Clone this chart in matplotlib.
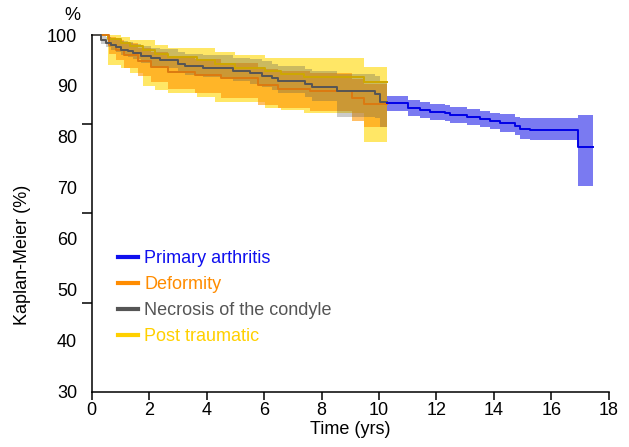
import matplotlib
matplotlib.use("Agg")
import matplotlib.pyplot as plt
import numpy as np

plt.rcParams['font.family'] = ['Liberation Sans', 'DejaVu Sans']

# Primary arthritis (visible part after the other groups end)
pa_t = [10.28, 11.0, 11.43, 11.78, 12.3, 12.48, 13.07, 13.5, 13.87, 14.2, 14.74, 14.9, 15.26, 16.92, 17.44]
pa_v = [86.7, 85.7, 85.3, 84.9, 84.7, 84.3, 83.9, 83.5, 83.1, 82.7, 82.2, 81.6, 81.4, 78.1, 78.1]
pa_hi = [88.0, 87.2, 86.8, 86.4, 86.2, 85.8, 85.4, 85.0, 84.7, 84.4, 84.0, 83.8, 83.7, 84.3, 84.3]
pa_lo = [85.1, 84.2, 83.8, 83.4, 83.2, 82.8, 82.4, 82.0, 81.5, 81.0, 80.3, 79.6, 79.3, 70.4, 70.4]

# Deformity
de_t = [0, 0.6, 0.86, 1.14, 1.6, 2.08, 2.66, 3.58, 4.5, 5.8, 6.5, 7.6, 9.05, 9.46, 10.27]
de_v = [100, 98.0, 97.1, 96.1, 94.8, 93.8, 92.8, 92.2, 91.5, 90.1, 89.5, 89.0, 87.6, 86.4, 86.4]
de_hi = [100, 99.6, 99.1, 98.4, 97.4, 96.6, 95.7, 95.2, 94.6, 93.4, 92.9, 92.5, 91.3, 90.3, 90.3]
de_lo = [100, 96.2, 95.0, 93.6, 92.0, 90.8, 89.4, 88.6, 87.6, 86.3, 85.6, 85.0, 83.2, 82.0, 82.0]

# Necrosis of the condyle
ne_t = [0, 0.34, 0.51, 0.68, 0.86, 1.03, 1.26, 1.44, 1.73, 2.08, 2.37, 3.0, 3.24, 3.88,
        4.92, 5.51, 5.92, 6.27, 6.5, 7.43, 7.66, 8.53, 9.86, 10.04, 10.27]
ne_v = [100, 99.0, 98.5, 98.1, 97.6, 97.1, 96.8, 96.4, 95.9, 95.4, 95.0, 94.4, 93.9, 93.6,
        92.9, 92.5, 92.0, 91.5, 91.0, 90.3, 89.7, 89.0, 88.4, 86.9, 86.9]
ne_hi = [100, 99.8, 99.6, 99.4, 99.1, 98.8, 98.6, 98.3, 97.9, 97.5, 97.2, 96.7, 96.3, 96.1,
         95.5, 95.2, 94.8, 94.4, 94.0, 93.4, 92.9, 92.4, 92.0, 91.0, 91.0]
ne_lo = [100, 98.2, 97.6, 97.1, 96.6, 96.0, 95.6, 95.2, 94.6, 94.0, 93.5, 92.8, 92.2, 91.8,
         91.0, 90.4, 89.8, 89.2, 88.6, 87.8, 87.0, 84.0, 83.8, 82.0, 82.0]

# Post traumatic
pt_t = [0, 0.57, 1.03, 1.32, 1.78, 2.2, 2.66, 3.65, 4.28, 4.99, 6.03, 6.6, 7.4, 9.46, 10.27]
pt_v = [100, 99.2, 98.4, 97.8, 97.0, 96.2, 95.6, 95.0, 94.4, 93.6, 93.0, 92.4, 91.8, 90.8, 90.8]
pt_hi = [100, 100, 99.7, 99.0, 99.0, 98.0, 97.4, 97.4, 96.7, 96.1, 95.4, 95.4, 95.4, 93.8, 93.8]
pt_lo = [100, 94.1, 93.5, 92.5, 89.9, 89.2, 88.6, 87.9, 86.9, 86.9, 85.6, 85.3, 84.6, 79.0, 79.0]

yticks = [30, 40, 50, 60, 70, 80, 90, 100]
ymarks = [30, 47.5, 65, 82.5, 100]
xticks = [0, 2, 4, 6, 8, 10, 12, 14, 16, 18]

fig = plt.figure(figsize=(6.29, 4.47), dpi=100)
ax = fig.add_axes([0.1458, 0.1237, 0.8222, 0.798])

groups = [
    (pt_t, pt_v, pt_lo, pt_hi, '#FFD700', 0.6, 'Post traumatic'),
    (de_t, de_v, de_lo, de_hi, '#FF9500', 0.6, 'Deformity'),
    (ne_t, ne_v, ne_lo, ne_hi, '#555555', 0.3, 'Necrosis of the condyle'),
    (pa_t, pa_v, pa_lo, pa_hi, '#0000E6', 0.52, 'Primary arthritis'),
]
for t, v, lo, hi, c, a, name in groups:
    ax.fill_between(t, lo, hi, step='post', color=c, alpha=a, lw=0)
line_cols = {'Post traumatic': '#CFA800', 'Deformity': '#DC7A10',
             'Necrosis of the condyle': '#555555', 'Primary arthritis': '#0000E6'}
for t, v, lo, hi, c, a, name in groups:
    ax.step(t, v, where='post', color=line_cols[name], lw=1.4, clip_on=False)

ax.set_xlim(0, 18)
ax.set_ylim(30, 100)
for s in ['top', 'right']:
    ax.spines[s].set_visible(False)
ax.spines['left'].set_linewidth(1.1)
ax.spines['bottom'].set_linewidth(1.1)

ax.set_yticks(yticks)
ax.set_yticklabels([str(y) for y in yticks])
ax.set_yticks(ymarks, minor=True)
ax.tick_params(axis='y', which='major', length=0, pad=10.5, labelsize=13)
ax.tick_params(axis='y', which='minor', length=7, width=1.1, direction='out')
ax.set_xticks(xticks)
ax.tick_params(axis='x', length=5.5, width=1.1, direction='out', pad=2, labelsize=13)

ax.set_xlabel('Time (yrs)', fontsize=13, labelpad=1)
ax.set_ylabel('Kaplan-Meier (%)', fontsize=13)
ax.yaxis.set_label_coords(-0.117, 0.383)
ax.text(-0.038, 1.03, '%', transform=ax.transAxes, fontsize=13, ha='center', va='bottom')

order = ['Primary arthritis', 'Deformity', 'Necrosis of the condyle', 'Post traumatic']
leg_cols = {'Primary arthritis': '#1010EE', 'Deformity': '#FF8C00',
            'Necrosis of the condyle': '#555555', 'Post traumatic': '#FFD000'}
proxies = [plt.Line2D([], [], color=leg_cols[n], lw=3) for n in order]
leg = ax.legend(proxies, order, loc='upper left', bbox_to_anchor=(0.051, 0.397),
                frameon=False, fontsize=13, handlelength=1.1, handletextpad=0.35,
                labelspacing=0.5, borderpad=0, borderaxespad=0)
for txt, n in zip(leg.get_texts(), order):
    txt.set_color(leg_cols[n])

fig.savefig('out.png', dpi=100)
